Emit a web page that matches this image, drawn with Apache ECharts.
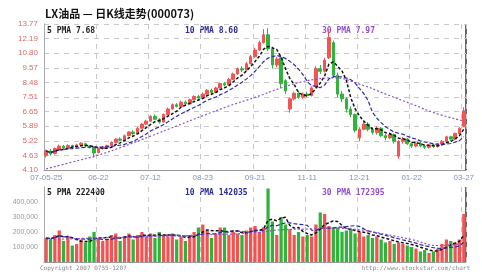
<!DOCTYPE html>
<html>
<head>
<meta charset="utf-8">
<script src="https://cdn.jsdelivr.net/npm/echarts@6/dist/echarts.min.js"></script>
<style>
  html, body { margin: 0; padding: 0; background: #fff; }
  #chart { width: 482px; height: 274px; }
</style>
</head>
<body>
<div id="chart"></div>
<script>
// price axis labels (bottom -> top), evenly spaced on a log scale
const priceTicks = ["4.10", "4.63", "5.22", "5.89", "6.65", "7.51", "8.48", "9.57", "10.80", "12.19", "13.77"];
const dateTicks = ["07-05-25", "06-22", "07-12", "08-23", "09-21", "11-11", "12-21", "01-22", "03-27"];

// [open, close, low, high]
const kData = [
  [4.62, 4.80, 4.55, 4.86], [4.80, 4.68, 4.62, 4.88], [4.70, 4.90, 4.66, 4.95], [4.88, 5.00, 4.84, 5.06],
  [5.00, 4.92, 4.88, 5.05], [4.92, 5.02, 4.90, 5.08], [5.02, 4.95, 4.90, 5.06], [4.96, 5.05, 4.93, 5.10],
  [5.05, 5.12, 5.00, 5.16], [5.10, 5.00, 4.96, 5.14], [5.00, 4.95, 4.90, 5.04], [4.96, 4.72, 4.55, 4.98],
  [4.74, 4.90, 4.70, 4.94], [4.90, 4.96, 4.86, 5.00], [4.96, 5.02, 4.92, 5.06], [5.02, 5.15, 5.00, 5.20],
  [5.15, 5.30, 5.12, 5.34], [5.30, 5.25, 5.20, 5.38], [5.25, 5.45, 5.22, 5.50], [5.45, 5.62, 5.42, 5.66],
  [5.62, 5.55, 5.48, 5.70], [5.55, 5.80, 5.52, 5.85], [5.80, 6.00, 5.76, 6.05], [6.00, 6.15, 5.95, 6.22],
  [6.15, 6.40, 6.10, 6.46], [6.40, 6.25, 6.20, 6.50], [6.25, 6.10, 6.02, 6.30], [6.10, 6.50, 6.08, 6.55],
  [6.50, 6.80, 6.45, 6.88], [6.80, 7.05, 6.75, 7.12], [7.05, 6.95, 6.88, 7.15], [6.95, 7.20, 6.90, 7.28],
  [7.20, 7.10, 7.02, 7.30], [7.10, 7.35, 7.05, 7.42], [7.35, 7.55, 7.30, 7.62], [7.55, 7.45, 7.38, 7.65],
  [7.45, 7.70, 7.40, 7.80], [7.70, 7.95, 7.65, 8.02], [7.95, 7.80, 7.72, 8.05], [7.80, 8.10, 7.76, 8.18],
  [8.10, 8.40, 8.05, 8.48], [8.40, 8.30, 8.20, 8.52], [8.30, 8.70, 8.25, 8.80], [8.70, 9.10, 8.65, 9.20],
  [9.10, 9.50, 9.05, 9.60], [9.50, 9.40, 9.25, 9.70], [9.40, 9.90, 9.35, 10.05], [9.90, 10.50, 9.85, 10.65],
  [10.50, 11.10, 10.40, 11.30], [11.10, 11.80, 11.00, 12.00], [11.80, 12.60, 11.70, 13.20], [12.60, 11.20, 11.00, 13.30],
  [11.20, 9.80, 9.50, 11.40], [9.80, 10.30, 9.60, 10.50], [10.40, 8.40, 8.10, 10.60], [8.60, 7.90, 7.70, 8.70],
  [6.80, 7.40, 6.60, 7.50], [7.40, 7.75, 7.30, 7.85], [7.75, 7.50, 7.40, 7.90], [7.50, 7.70, 7.40, 7.80],
  [7.70, 7.60, 7.50, 7.85], [7.60, 8.10, 7.55, 8.20], [8.20, 9.50, 8.10, 9.70], [9.50, 9.30, 9.10, 9.80],
  [9.30, 10.20, 9.20, 10.40], [10.40, 12.30, 10.30, 13.20], [11.80, 9.00, 8.80, 12.00], [9.00, 7.70, 7.50, 9.20],
  [7.70, 7.40, 7.20, 7.90], [7.40, 6.80, 6.60, 7.50], [6.80, 6.50, 6.35, 6.95], [6.50, 5.70, 5.60, 6.55],
  [5.35, 5.75, 5.20, 5.85], [5.75, 6.00, 5.70, 6.10], [6.00, 5.75, 5.65, 6.10], [5.75, 5.60, 5.50, 5.85],
  [5.60, 5.80, 5.50, 5.90], [5.80, 5.45, 5.40, 5.85], [5.45, 5.35, 5.25, 5.55], [5.35, 5.50, 5.30, 5.60],
  [5.50, 5.20, 5.10, 5.55], [4.60, 5.20, 4.50, 5.25], [5.20, 5.30, 5.10, 5.40], [5.30, 5.10, 5.05, 5.35],
  [5.10, 5.00, 4.92, 5.18], [5.00, 5.12, 4.95, 5.20], [5.12, 5.00, 4.95, 5.18], [5.00, 4.95, 4.88, 5.05],
  [4.95, 5.05, 4.90, 5.10], [5.05, 4.98, 4.92, 5.10], [4.98, 5.08, 4.94, 5.12], [5.08, 5.20, 5.02, 5.26],
  [5.20, 5.40, 5.15, 5.45], [5.40, 5.30, 5.22, 5.45], [5.30, 5.55, 5.25, 5.60], [5.55, 5.80, 5.50, 5.85],
  [5.90, 6.70, 5.85, 6.90]
];

const volumes = [
  160000, 150000, 180000, 210000, 140000, 170000, 110000, 120000, 150000, 130000,
  170000, 200000, 160000, 140000, 150000, 180000, 190000, 140000, 170000, 190000,
  150000, 180000, 200000, 170000, 190000, 160000, 200000, 180000, 170000, 190000,
  150000, 170000, 140000, 180000, 200000, 230000, 250000, 210000, 160000, 190000,
  230000, 230000, 180000, 200000, 190000, 180000, 210000, 230000, 240000, 200000,
  230000, 490000, 270000, 180000, 300000, 250000, 220000, 180000, 200000, 170000,
  180000, 170000, 250000, 330000, 320000, 240000, 230000, 230000, 200000, 210000,
  220000, 190000, 200000, 170000, 180000, 160000, 170000, 150000, 130000, 140000,
  120000, 130000, 120000, 110000, 100000, 90000, 70000, 80000, 60000, 70000,
  90000, 120000, 150000, 140000, 130000, 150000, 320000
];

// 30-day averages: [candle index, value]
const ma30Price = [
  [0, 4.14], [6, 4.38], [12, 4.64], [18, 5.00], [24, 5.43], [30, 5.91], [36, 6.43], [42, 6.97],
  [48, 7.49], [54, 8.10], [60, 8.60], [66, 8.80], [72, 8.36], [78, 7.70], [84, 7.09], [90, 6.53], [96, 6.16]
];
const ma30Vol = [
  [0, 150000], [12, 160000], [24, 170000], [36, 180000], [48, 195000], [54, 215000], [60, 220000],
  [66, 225000], [72, 215000], [78, 185000], [84, 150000], [90, 110000], [96, 125000]
];

const priceTexts = ["5 PMA 7.68", "10 PMA 8.60", "30 PMA 7.97"];
const volTexts = ["5 PMA 222400", "10 PMA 142035", "30 PMA 172395"];

const RED = "#f25454";
const GREEN = "#2fb33a";
const LO = Math.log(4.10), HI = Math.log(13.77);
const toU = p => (Math.log(p) - LO) / (HI - LO) * 10;

function ma(arr, n) {
  return arr.map((_, i) => {
    const s = arr.slice(Math.max(0, i - n + 1), i + 1);
    return s.reduce((a, b) => a + b, 0) / s.length;
  });
}

const cats = kData.map((_, i) => String(i));
const closes = kData.map(d => d[1]);
const kU = kData.map(d => d.map(toU));
const volData = volumes.map((v, i) => ({
  value: v,
  itemStyle: { color: kData[i][1] >= kData[i][0] ? RED : GREEN }
}));

var myChart = echarts.init(document.getElementById("chart"));

const splitX = { show: true, interval: 11, lineStyle: { color: "#c8c8c8", type: [5, 5] } };
const legendFont = { fontFamily: "DejaVu Sans Mono", fontSize: 8, fontWeight: "bold" };

myChart.setOption({
  animation: false,
  backgroundColor: "#fff",
  grid: [
    { left: 44, right: 16, top: 24, height: 146 },
    { left: 44, right: 16, top: 187, height: 75 }
  ],
  xAxis: [
    {
      type: "category", gridIndex: 0, data: cats, boundaryGap: true,
      axisLine: { lineStyle: { color: "#999" } },
      axisTick: { show: false },
      axisLabel: {
        interval: 11, color: "#7d95b8", fontSize: 8, margin: 4,
        formatter: (v, idx) => dateTicks[Math.round(idx / 12)] || ""
      },
      splitLine: splitX
    },
    {
      type: "category", gridIndex: 1, data: cats, boundaryGap: true,
      axisLine: { lineStyle: { color: "#999" } },
      axisTick: { show: false }, axisLabel: { show: false },
      splitLine: splitX
    }
  ],
  yAxis: [
    {
      type: "value", gridIndex: 0, min: 0, max: 10, interval: 1,
      axisLine: { show: true, lineStyle: { color: "#aaa" } },
      axisTick: { show: false },
      axisLabel: { color: "#d86a6a", fontSize: 8, margin: 6, formatter: v => priceTicks[Math.round(v)] },
      splitLine: { lineStyle: { color: "#c8c8c8", type: [5, 5] } }
    },
    {
      type: "value", gridIndex: 1, min: 0, max: 500000, interval: 100000,
      axisLine: { show: true, lineStyle: { color: "#aaa" } },
      axisTick: { show: false },
      axisLabel: { color: "#999", fontSize: 7, margin: 6, showMinLabel: false, showMaxLabel: false },
      splitLine: { show: false }
    }
  ],
  graphic: [
    { type: "text", left: 45, top: 8, style: { text: "LX油品 — 日K线走势(000073)", fontSize: 11, fontWeight: "bold", fill: "#111", fontFamily: "Noto Sans CJK SC" } },
    { type: "text", left: 47, top: 27, style: Object.assign({ text: priceTexts[0], fill: "#222" }, legendFont) },
    { type: "text", left: 185, top: 27, style: Object.assign({ text: priceTexts[1], fill: "#2b2ba0" }, legendFont) },
    { type: "text", left: 322, top: 27, style: Object.assign({ text: priceTexts[2], fill: "#9050c8" }, legendFont) },
    { type: "text", left: 47, top: 189, style: Object.assign({ text: volTexts[0], fill: "#222" }, legendFont) },
    { type: "text", left: 185, top: 189, style: Object.assign({ text: volTexts[1], fill: "#2b2ba0" }, legendFont) },
    { type: "text", left: 322, top: 189, style: Object.assign({ text: volTexts[2], fill: "#9050c8" }, legendFont) },
    { type: "text", left: 40, top: 265, style: { text: "Copyright 2007 0755-1207", fontSize: 6, fill: "#888", fontFamily: "DejaVu Sans Mono" } },
    { type: "text", right: 12, top: 265, style: { text: "http://www.stockstar.com/chart", fontSize: 6, fill: "#888", fontFamily: "DejaVu Sans Mono" } },
    { type: "line", shape: { x1: 466, y1: 24, x2: 466, y2: 170 }, style: { stroke: "#666", lineWidth: 2 } },
    { type: "line", shape: { x1: 466, y1: 187, x2: 466, y2: 262 }, style: { stroke: "#666", lineWidth: 2 } }
  ],
  series: [
    {
      name: "K", type: "candlestick", xAxisIndex: 0, yAxisIndex: 0, data: kU, barWidth: "70%",
      itemStyle: { color: RED, color0: GREEN, borderColor: RED, borderColor0: GREEN, borderWidth: 1 }
    },
    {
      name: "MA5", type: "line", xAxisIndex: 0, yAxisIndex: 0, data: ma(closes, 5).map(toU),
      showSymbol: false, lineStyle: { color: "#111", width: 1.5, type: [3, 2] }
    },
    {
      name: "MA10", type: "line", xAxisIndex: 0, yAxisIndex: 0, data: ma(closes, 10).map(toU),
      showSymbol: false, lineStyle: { color: "#2b2ba0", width: 1.2, type: [4, 2] }
    },
    {
      name: "MA30", type: "line", xAxisIndex: 0, yAxisIndex: 0, smooth: true,
      data: ma30Price.map(d => [d[0], toU(d[1])]),
      showSymbol: false, lineStyle: { color: "#9050c8", width: 1.2, type: [2, 2] }
    },
    {
      name: "VOL", type: "bar", xAxisIndex: 1, yAxisIndex: 1, data: volData, barWidth: "75%"
    },
    {
      name: "VMA5", type: "line", xAxisIndex: 1, yAxisIndex: 1, data: ma(volumes, 5),
      showSymbol: false, lineStyle: { color: "#111", width: 1.5, type: [3, 2] }
    },
    {
      name: "VMA10", type: "line", xAxisIndex: 1, yAxisIndex: 1, data: ma(volumes, 10),
      showSymbol: false, lineStyle: { color: "#2b2ba0", width: 1.2, type: [4, 2] }
    },
    {
      name: "VMA30", type: "line", xAxisIndex: 1, yAxisIndex: 1, smooth: true,
      data: ma30Vol, showSymbol: false, lineStyle: { color: "#9050c8", width: 1.2, type: [2, 2] }
    }
  ]
});
</script>
</body>
</html>
